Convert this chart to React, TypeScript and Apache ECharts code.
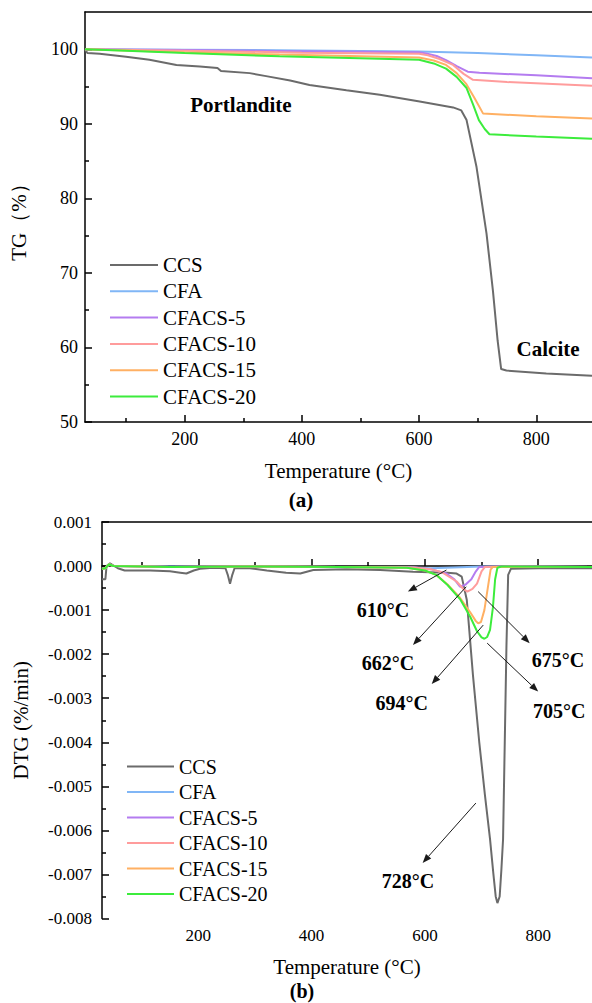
import React, { useEffect, useRef } from 'react';
import * as echarts from 'echarts';

// Sample names and line colours (shared by both panels)
const SERIES_NAMES = ['CCS', 'CFA', 'CFACS-5', 'CFACS-10', 'CFACS-15', 'CFACS-20'];
const SERIES_COLORS = ['#6b6b6b', '#80b6f6', '#b47cf0', '#ff9c9c', '#ffb063', '#3cec3c'];

// Temperature axis
const T_MIN = 30;
const T_MAX = 895;
const T_MAJOR = [200, 400, 600, 800];
const T_MINOR = [100, 300, 500, 700];

// TG axis (%)
const TG_MIN = 50;
const TG_MAX = 105;
const TG_MAJOR = [50, 60, 70, 80, 90, 100];
const TG_MINOR = [55, 65, 75, 85, 95];

// DTG axis (%/min)
const DTG_MIN = -0.008;
const DTG_MAX = 0.001;
const DTG_MAJOR = [-0.008, -0.007, -0.006, -0.005, -0.004, -0.003, -0.002, -0.001, 0, 0.001];
const DTG_MINOR = [-0.0075, -0.0065, -0.0055, -0.0045, -0.0035, -0.0025, -0.0015, -0.0005, 0.0005];

// TG curves: [temperature °C, mass %]
const TG_CCS = [
  [30, 100.0], [34, 99.5], [55, 99.4], [100, 99.0], [140, 98.6], [186, 97.9], [226, 97.7],
  [256, 97.5], [262, 97.1], [311, 96.8], [339, 96.4], [380, 95.8], [413, 95.2], [476, 94.5],
  [533, 93.9], [601, 93.0], [658, 92.2], [672, 91.8], [681, 90.5], [698, 84.2], [715, 75.3],
  [726, 67.6], [734, 60.9], [740, 57.1], [749, 56.9], [817, 56.5], [895, 56.2],
];
const TG_CFA = [
  [30, 100.0], [200, 99.95], [400, 99.85], [600, 99.7], [700, 99.5], [800, 99.2], [895, 98.9],
];
const TG_CFACS5 = [
  [30, 100.0], [200, 99.9], [400, 99.75], [600, 99.6], [612, 99.45], [630, 99.1], [646, 98.55],
  [665, 97.7], [683, 97.0], [703, 96.85], [800, 96.5], [895, 96.1],
];
const TG_CFACS10 = [
  [30, 100.0], [200, 99.8], [400, 99.55], [600, 99.4], [615, 99.2], [635, 98.7], [658, 97.9],
  [676, 96.7], [692, 95.9], [750, 95.6], [895, 95.1],
];
const TG_CFACS15 = [
  [30, 100.0], [200, 99.6], [362, 99.3], [600, 98.9], [625, 98.5], [646, 97.9], [664, 96.8],
  [680, 95.4], [695, 93.4], [709, 91.4], [800, 91.0], [895, 90.7],
];
const TG_CFACS20 = [
  [30, 100.0], [100, 99.8], [200, 99.5], [362, 99.05], [600, 98.6], [625, 98.1], [646, 97.4],
  [664, 96.3], [681, 94.8], [692, 92.6], [702, 90.5], [712, 89.3], [720, 88.6], [800, 88.3],
  [895, 88.0],
];

// DTG curves: [temperature °C, %/min]
const DTG_CCS = [
  [30, -0.0003], [36, -0.0003], [38, 0.0], [44, 0.00006], [58, -0.00005], [70, -0.0001],
  [115, -0.0001], [150, -0.00012], [168, -0.00015], [179, -0.00017], [192, -0.0001],
  [203, -0.00006], [226, -0.00004], [248, -0.00005], [252, -0.0002], [256, -0.0004],
  [260, -0.0002], [264, -0.00005], [291, -0.00005], [321, -0.0001], [355, -0.00015],
  [380, -0.00017], [403, -0.00009], [462, -0.00007], [521, -0.00009], [579, -0.00013],
  [640, -0.00015], [656, -0.00017], [665, -0.00024], [674, -0.00077], [685, -0.0025],
  [696, -0.004], [706, -0.0052], [715, -0.0062], [721, -0.007], [725, -0.0075], [728, -0.00765],
  [732, -0.0075], [735, -0.0069], [738, -0.0062], [741, -0.004], [744, -0.0018], [747, -0.0002],
  [752, -0.00006], [800, -0.00005], [895, -0.00005],
];
const DTG_CFA = [
  [30, -0.00006], [36, -0.00005], [42, 0.00004], [50, 0.0], [150, -0.00001], [300, -0.00001],
  [450, -0.00002], [560, -0.00002], [610, -0.00005], [650, -0.00003], [700, -0.00001],
  [895, -0.00002],
];
const DTG_CFACS5 = [
  [30, -0.00006], [36, -0.00005], [42, 0.00004], [50, 0.0], [150, -0.00002], [300, -0.00001],
  [450, -0.00002], [580, -0.00003], [610, -0.00007], [638, -0.00017], [652, -0.0003],
  [662, -0.00047], [672, -0.00042], [682, -0.0003], [690, -0.00012], [696, -0.00002],
  [750, -0.00001], [895, -0.00002],
];
const DTG_CFACS10 = [
  [30, -0.00006], [36, -0.00005], [42, 0.00004], [50, 0.0], [150, -0.00002], [300, -0.00001],
  [450, -0.00002], [580, -0.00003], [610, -0.00007], [630, -0.00014], [656, -0.00035],
  [668, -0.00052], [675, -0.00058], [684, -0.00052], [692, -0.0004], [700, -0.00012],
  [706, -0.00002], [750, -0.00001], [895, -0.00002],
];
const DTG_CFACS15 = [
  [30, -0.00006], [36, -0.00005], [42, 0.00004], [50, 0.0], [150, -0.00002], [300, -0.00001],
  [450, -0.00002], [568, -0.00004], [600, -0.0001], [620, -0.0002], [640, -0.00042],
  [662, -0.00072], [680, -0.00105], [690, -0.00125], [694, -0.0013], [699, -0.00127],
  [705, -0.001], [711, -0.0005], [716, -0.00008], [720, -0.00002], [895, -0.00002],
];
const DTG_CFACS20 = [
  [30, -0.00006], [36, -0.00005], [42, 0.00004], [50, 0.0], [150, -0.00002], [300, -0.00001],
  [450, -0.00002], [568, -0.00004], [600, -0.0001], [620, -0.0002], [640, -0.00043],
  [662, -0.00075], [680, -0.00115], [692, -0.00148], [700, -0.00162], [705, -0.00165],
  [710, -0.00161], [715, -0.00145], [720, -0.00095], [724, -0.0003], [728, -0.00004],
  [735, -0.00001], [895, -0.00002],
];

const TG_DATA = [TG_CCS, TG_CFA, TG_CFACS5, TG_CFACS10, TG_CFACS15, TG_CFACS20];
const DTG_DATA = [DTG_CCS, DTG_CFA, DTG_CFACS5, DTG_CFACS10, DTG_CFACS15, DTG_CFACS20];

// Text notes in data coordinates
const TG_NOTES = [
  { text: 'Portlandite', at: [296, 92.5] },
  { text: 'Calcite', at: [820, 59.85] },
];
// Peak-temperature callouts: arrow tail, arrow tip, label centre
const DTG_NOTES = [
  { text: '610°C', from: [638, -0.00009], to: [570, -0.00058], at: [526, -0.001] },
  { text: '662°C', from: [673, -0.00047], to: [579, -0.00179], at: [535, -0.00221] },
  { text: '675°C', from: [694, -0.00058], to: [785, -0.00175], at: [835, -0.00213] },
  { text: '694°C', from: [703, -0.00134], to: [612, -0.00268], at: [559, -0.00311] },
  { text: '705°C', from: [710, -0.00175], to: [800, -0.00285], at: [837, -0.00328] },
  { text: '728°C', from: [690, -0.00538], to: [596, -0.00674], at: [570, -0.00716] },
];

const FONT = '"Liberation Serif", "Times New Roman", serif';
const AXIS_COLOR = '#000';

function xAxes(gridIndex: number, labelSize: number) {
  return [
    {
      type: 'value', gridIndex, position: 'bottom', min: T_MIN, max: T_MAX,
      name: 'Temperature (°C)', nameLocation: 'middle', nameGap: 38,
      nameTextStyle: { fontSize: 21, color: '#000', fontFamily: FONT },
      axisLine: { show: true, lineStyle: { color: AXIS_COLOR, width: 1.5 } },
      axisTick: { show: true, inside: true, length: 7, customValues: T_MAJOR, lineStyle: { color: AXIS_COLOR, width: 1.5 } },
      axisLabel: { show: true, customValues: T_MAJOR, margin: 8, fontSize: labelSize, color: '#000', fontFamily: FONT },
      splitLine: { show: false },
    },
    {
      type: 'value', gridIndex, position: 'bottom', min: T_MIN, max: T_MAX,
      axisLine: { show: false },
      axisTick: { show: true, inside: true, length: 4, customValues: T_MINOR, lineStyle: { color: AXIS_COLOR, width: 1.5 } },
      axisLabel: { show: false },
      splitLine: { show: false },
    },
    {
      type: 'value', gridIndex, position: 'top', min: T_MIN, max: T_MAX,
      axisLine: { show: true, lineStyle: { color: AXIS_COLOR, width: 1.5 } },
      axisTick: { show: false },
      axisLabel: { show: false },
      splitLine: { show: false },
    },
  ];
}

function yAxes(gridIndex: number, min: number, max: number, major: number[], minor: number[], name: string, nameGap: number, labelSize: number, labelMargin: number, fmt: (v: number) => string) {
  return [
    {
      type: 'value', gridIndex, position: 'left', min, max,
      name, nameLocation: 'middle', nameGap,
      nameTextStyle: { fontSize: 21, color: '#000', fontFamily: FONT },
      axisLine: { show: true, lineStyle: { color: AXIS_COLOR, width: 1.5 } },
      axisTick: { show: true, inside: true, length: 7, customValues: major, lineStyle: { color: AXIS_COLOR, width: 1.5 } },
      axisLabel: { show: true, customValues: major, margin: labelMargin, fontSize: labelSize, color: '#000', fontFamily: FONT, formatter: fmt },
      splitLine: { show: false },
    },
    {
      type: 'value', gridIndex, position: 'left', min, max,
      axisLine: { show: false },
      axisTick: { show: true, inside: true, length: 4, customValues: minor, lineStyle: { color: AXIS_COLOR, width: 1.5 } },
      axisLabel: { show: false },
      splitLine: { show: false },
    },
  ];
}

function legend(left: number, top: number, itemWidth: number, fontSize: number, gap: number) {
  return {
    data: SERIES_NAMES,
    orient: 'vertical',
    left, top,
    padding: 0,
    icon: 'rect',
    itemWidth,
    itemHeight: 2,
    itemGap: gap,
    selectedMode: false,
    textStyle: { fontSize, lineHeight: fontSize, color: '#000', fontFamily: FONT },
  };
}

function noteText(api: any, at: number[], text: string, size: number) {
  const p = api.coord(at);
  return {
    type: 'text',
    x: p[0], y: p[1],
    style: { text, font: `bold ${size}px ${FONT}`, fill: '#000', align: 'center', verticalAlign: 'middle' },
  };
}

export default function App() {
  const ref = useRef<HTMLDivElement>(null);

  useEffect(() => {
    if (!ref.current) return;
    const chart = echarts.init(ref.current, undefined, { renderer: 'svg' });

    const lineSeries = (data: number[][][], xi: number, yi: number) =>
      data.map((d, i) => ({
        name: SERIES_NAMES[i],
        type: 'line',
        xAxisIndex: xi,
        yAxisIndex: yi,
        data: d,
        showSymbol: false,
        symbol: 'none',
        color: SERIES_COLORS[i],
        itemStyle: { color: SERIES_COLORS[i] },
        lineStyle: { color: SERIES_COLORS[i], width: 2 },
        silent: true,
        z: 2 + i,
      }));

    chart.setOption({
      animation: false,
      backgroundColor: '#fff',
      textStyle: { fontFamily: FONT, color: '#000' },
      grid: [
        { left: 85, top: 12, width: 507, height: 410 },
        { left: 102, top: 522, width: 490, height: 396.5 },
      ],
      xAxis: [...xAxes(0, 18), ...xAxes(1, 17)],
      yAxis: [
        ...yAxes(0, TG_MIN, TG_MAX, TG_MAJOR, TG_MINOR, 'TG（%）', 56, 18, 7, (v: number) => String(v)),
        ...yAxes(1, DTG_MIN, DTG_MAX, DTG_MAJOR, DTG_MINOR, 'DTG (%/min)', 71, 17, 10, (v: number) => v.toFixed(3)),
      ],
      legend: [legend(110, 254.5, 48, 21, 5.3), legend(127, 756.5, 47, 20, 5.5)],
      graphic: [
        { type: 'text', x: 301, y: 500, style: { text: '(a)', font: `bold 21px ${FONT}`, fill: '#000', align: 'center', verticalAlign: 'middle' } },
        { type: 'text', x: 302, y: 991, style: { text: '(b)', font: `bold 20px ${FONT}`, fill: '#000', align: 'center', verticalAlign: 'middle' } },
      ],
      series: [
        ...lineSeries(TG_DATA, 0, 0),
        ...lineSeries(DTG_DATA, 3, 2),
        {
          type: 'custom',
          xAxisIndex: 0,
          yAxisIndex: 0,
          silent: true,
          z: 20,
          data: TG_NOTES.map((n) => n.at),
          renderItem: (params: any, api: any) => {
            const n = TG_NOTES[params.dataIndex];
            return noteText(api, n.at, n.text, 21);
          },
        },
        {
          type: 'custom',
          xAxisIndex: 3,
          yAxisIndex: 2,
          silent: true,
          z: 20,
          data: DTG_NOTES.map((n) => n.to),
          renderItem: (params: any, api: any) => {
            const n = DTG_NOTES[params.dataIndex];
            const p0 = api.coord(n.from);
            const p1 = api.coord(n.to);
            const ang = Math.atan2(p1[1] - p0[1], p1[0] - p0[0]);
            const c = Math.cos(ang);
            const s = Math.sin(ang);
            const headL = 9;
            const headW = 3.5;
            const base = [p1[0] - headL * c, p1[1] - headL * s];
            const l = [base[0] + headW * s, base[1] - headW * c];
            const r = [base[0] - headW * s, base[1] + headW * c];
            return {
              type: 'group',
              children: [
                { type: 'line', shape: { x1: p0[0], y1: p0[1], x2: base[0], y2: base[1] }, style: { stroke: '#1a1a1a', lineWidth: 1 } },
                { type: 'polygon', shape: { points: [p1, l, r] }, style: { fill: '#1a1a1a' } },
                noteText(api, n.at, n.text, 20),
              ],
            };
          },
        },
      ],
    });

    return () => chart.dispose();
  }, []);

  return (
    <div
      ref={ref}
      style={{ position: 'absolute', left: 0, top: 0, width: 592, height: 1003, background: '#fff' }}
    />
  );
}
